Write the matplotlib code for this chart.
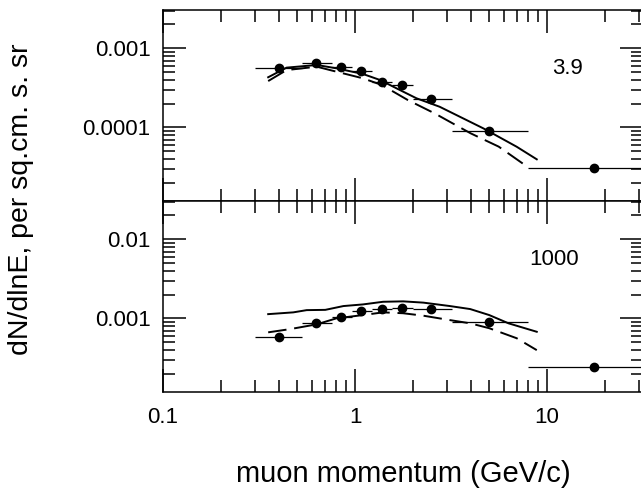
import matplotlib
matplotlib.use("Agg")
import matplotlib.pyplot as plt
from matplotlib.ticker import LogLocator, FixedLocator, FixedFormatter, NullFormatter

plt.rcParams["font.family"] = ["Liberation Sans", "DejaVu Sans"]

# measured muon spectra: bin centres and bin edges (GeV/c)
p_mid = [0.40, 0.63, 0.845, 1.08, 1.38, 1.75, 2.5, 5.0, 17.6]
p_lo = [0.30, 0.53, 0.76, 0.96, 1.22, 1.55, 2.0, 3.2, 8.0]
p_hi = [0.53, 0.76, 0.96, 1.22, 1.55, 2.0, 3.2, 8.0, 40.0]

flux_39 = [5.6e-4, 6.6e-4, 5.75e-4, 5.1e-4, 3.8e-4, 3.4e-4, 2.3e-4, 9.1e-5, 3.1e-5]
flux_1000 = [5.85e-4, 8.65e-4, 1.05e-3, 1.24e-3, 1.3e-3, 1.34e-3, 1.3e-3, 8.9e-4, 2.45e-4]

# model curves, 3.9 panel
solid_39_x = [0.353, 0.44, 0.632, 0.80, 1.10, 1.35, 1.71, 2.09, 2.76, 4.66, 6.95, 8.84]
solid_39_y = [4.3e-4, 5.69e-4, 6.15e-4, 5.58e-4, 4.73e-4, 3.97e-4, 2.97e-4, 2.33e-4,
              1.82e-4, 9.7e-5, 5.68e-5, 3.94e-5]
dash_39_x = [0.353, 0.44, 0.632, 0.80, 1.10, 1.38, 1.88, 2.6, 4.0, 5.6, 7.9]
dash_39_y = [3.85e-4, 5.3e-4, 5.85e-4, 5.06e-4, 4.17e-4, 3.43e-4, 2.22e-4, 1.5e-4,
             8.4e-5, 5.7e-5, 3.17e-5]

# model curves, 1000 panel
solid_1000_x = [0.353, 0.477, 0.56, 0.70, 0.87, 1.10, 1.40, 1.78, 2.27, 3.12, 3.98, 5.0, 6.3, 8.84]
solid_1000_y = [1.13e-3, 1.19e-3, 1.27e-3, 1.28e-3, 1.43e-3, 1.5e-3, 1.62e-3, 1.64e-3,
                1.58e-3, 1.43e-3, 1.31e-3, 1.1e-3, 8.65e-4, 6.76e-4]
dash_1000_x = [0.353, 0.458, 0.632, 0.80, 1.10, 1.40, 1.78, 2.27, 3.12, 3.98, 5.0, 6.95, 8.84]
dash_1000_y = [6.65e-4, 7.3e-4, 8.4e-4, 1.0e-3, 1.1e-3, 1.19e-3, 1.16e-3, 1.08e-3,
               9.5e-4, 8.65e-4, 7.5e-4, 5.6e-4, 3.96e-4]

W, H = 641, 495
fig = plt.figure(figsize=(W / 100, H / 100), dpi=100)
ax_top = fig.add_axes([163 / W, (H - 201) / H, 480 / W, 191 / H])
ax_bot = fig.add_axes([163 / W, (H - 392) / H, 480 / W, 191 / H])


def draw_panel(ax, flux, sx, sy, dx, dy, ylim, yticks, label, label_x, label_y):
    xerr = [[m - lo for m, lo in zip(p_mid, p_lo)], [hi - m for m, hi in zip(p_mid, p_hi)]]
    ax.errorbar(p_mid, flux, xerr=xerr, fmt="o", color="black", ms=6,
                elinewidth=0.9, capsize=0, zorder=3)
    ax.plot(sx, sy, color="black", lw=1.4)
    ax.plot(dx, dy, color="black", lw=1.4, dashes=(9.5, 4))

    ax.set_xscale("log")
    ax.set_yscale("log")
    ax.set_xlim(0.1, 31.6)
    ax.set_ylim(*ylim)

    ax.yaxis.set_major_locator(FixedLocator(yticks))
    ax.yaxis.set_major_formatter(FixedFormatter([f"{v:g}" for v in yticks]))
    ax.yaxis.set_minor_locator(LogLocator(base=10, subs=range(2, 10), numticks=20))
    ax.yaxis.set_minor_formatter(NullFormatter())
    ax.xaxis.set_minor_locator(LogLocator(base=10, subs=range(2, 10), numticks=20))
    ax.xaxis.set_minor_formatter(NullFormatter())

    ax.tick_params(which="both", direction="in", top=True, right=True,
                   width=1.1, labelsize=16, pad=9)
    ax.tick_params(which="major", length=16.5)
    ax.tick_params(which="minor", length=8.6)
    for s in ax.spines.values():
        s.set_linewidth(1.1)

    ax.text(label_x, label_y, label, fontsize=16, ha="center", va="center")


draw_panel(ax_top, flux_39, solid_39_x, solid_39_y, dash_39_x, dash_39_y,
           (1.17e-5, 3.05e-3), [1e-4, 1e-3], "3.9", 12.85, 5.6e-4)
draw_panel(ax_bot, flux_1000, solid_1000_x, solid_1000_y, dash_1000_x, dash_1000_y,
           (1.17e-4, 3.05e-2), [1e-3, 1e-2], "1000", 10.9, 5.6e-3)

ax_top.tick_params(labelbottom=False)
ax_bot.xaxis.set_major_formatter(FixedFormatter(["0.1", "1", "10"]))
ax_bot.xaxis.set_major_locator(FixedLocator([0.1, 1, 10]))
ax_bot.tick_params(axis="x", pad=11)

fig.text(21.5 / W, (H - 199) / H, "dN/dlnE, per sq.cm. s. sr", rotation=90,
         fontsize=20.5, ha="center", va="center")
fig.text(403 / W, (H - 474) / H, "muon momentum (GeV/c)", fontsize=21,
         ha="center", va="center")

fig.savefig("out.png", dpi=100)
